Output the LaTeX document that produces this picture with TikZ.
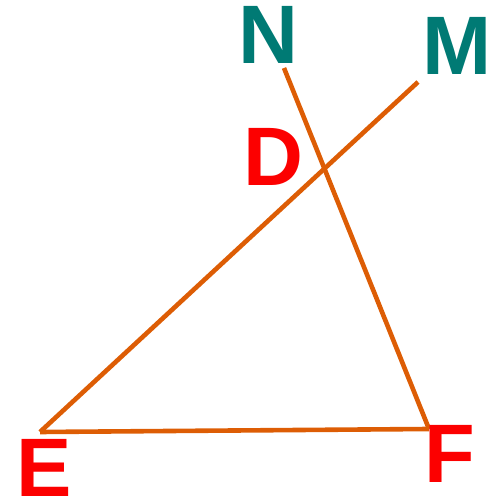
\documentclass[tikz,border=0pt]{standalone}
\usepackage{fontspec}
\setmainfont{Liberation Sans}
\usepackage{xcolor}
\usetikzlibrary{calc}
\definecolor{segorange}{RGB}{221,93,5}
\definecolor{ptteal}{RGB}{0,122,116}
\definecolor{ptred}{RGB}{252,0,0}

\begin{document}
\begin{tikzpicture}[x=1pt, y=1pt,
    every node/.style={font=\fontsize{83}{83}\selectfont\bfseries, inner sep=0pt},
    seg/.style={draw=segorange, line width=4.6pt},
    given/.style={text=ptteal},
    vertex/.style={text=ptred},
]
\useasboundingbox (0,0) rectangle (488,503);

\coordinate (E) at (40,71);
\coordinate (F) at (429,74);
\coordinate (N) at (284,435);
\coordinate (M) at (418,421);
\coordinate (D) at (intersection of N--F and E--M);

\draw[seg] (E) -- (F);
\draw[seg] (E) -- (M);
\draw[seg] (N) -- (F);

\node[given] (lblN) at (268,468) {N};
\node[given] (lblM) at (457,457) {M};
\node[vertex] (lblD) at (273,346) {D};
\node[vertex] (lblE) at (44,35) {E};
\node[vertex] (lblF) at (450,49) {F};

\end{tikzpicture}
\end{document}
